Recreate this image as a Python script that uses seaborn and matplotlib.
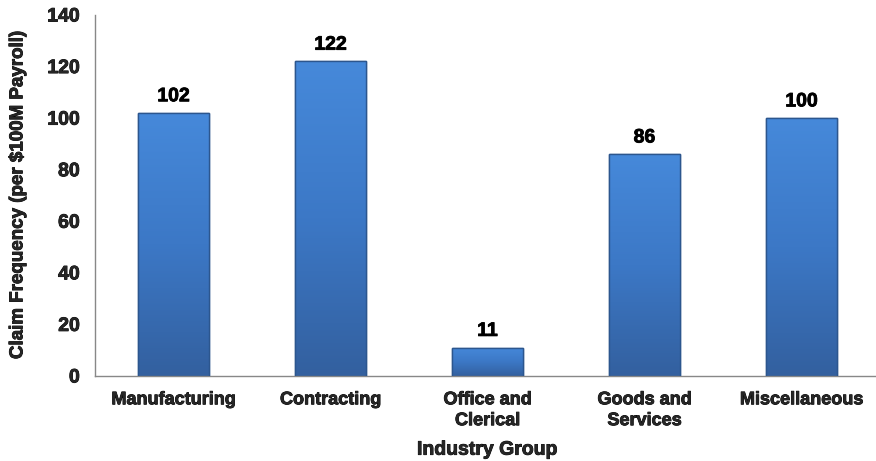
import numpy as np
import pandas as pd
import matplotlib
matplotlib.use("Agg")
import matplotlib.pyplot as plt
import matplotlib.patheffects as pe
from matplotlib.colors import LinearSegmentedColormap
import seaborn as sns

# Claim frequency per industry group
industries = ["Manufacturing", "Contracting", "Office and\nClerical", "Goods and\nServices", "Miscellaneous"]
claim_frequency = [102, 122, 11, 86, 100]
y_ticks = [0, 20, 40, 60, 80, 100, 120, 140]

df = pd.DataFrame({"Industry": industries, "Frequency": claim_frequency})

sns.set_theme(style="white")
plt.rcParams["font.family"] = ["Liberation Sans", "DejaVu Sans"]
plt.rcParams["font.weight"] = "bold"

heavy = [pe.withStroke(linewidth=0.6, foreground="black")]

fig = plt.figure(figsize=(8.76, 4.61), dpi=100)
ax = fig.add_axes([95 / 876, 1 - 376 / 461, 785 / 876, 361 / 461])

sns.barplot(data=df, x="Industry", y="Frequency", color="#3C78C8", width=0.45,
            edgecolor="#2C568E", linewidth=1.0, ax=ax, zorder=2)

# vertical gradient fill for each bar
grad_cmap = LinearSegmentedColormap.from_list("bar", ["#33609F", "#3C78C6", "#4689DA"])
gradient = np.linspace(0, 1, 256).reshape(-1, 1)
for patch in ax.patches:
    x0, y0 = patch.get_x(), patch.get_y()
    w, h = patch.get_width(), patch.get_height()
    im = ax.imshow(gradient, cmap=grad_cmap, origin="lower", aspect="auto",
                   extent=[x0, x0 + w, y0, y0 + h], zorder=2.5)
    im.set_clip_path(patch)
    ax.add_patch(plt.Rectangle((x0, y0), w, h, fill=False, edgecolor="#2C568E",
                               linewidth=1.0, zorder=3))

for i, v in enumerate(claim_frequency):
    ax.text(i, v + 3.0, str(v), ha="center", va="bottom", fontsize=14,
            fontweight="bold", color="black", path_effects=heavy)

ax.set_xlim(-0.5, 4.5)
ax.set_ylim(0, 140)
ax.set_yticks(y_ticks)
ax.set_yticklabels([str(t) for t in y_ticks], fontsize=14, fontweight="bold")
ax.set_xticks(range(len(industries)))
ax.set_xticklabels(industries, fontsize=13, fontweight="bold", linespacing=1.3)
ax.set_xticks(np.arange(-0.5, 5.0, 1.0), minor=True)
ax.tick_params(axis="x", which="major", length=0, pad=11)
ax.tick_params(axis="x", which="minor", length=6, width=1, color="#888888", direction="out")
ax.tick_params(axis="y", length=6, width=1, color="#888888", direction="out", pad=5)
for lbl in ax.get_xticklabels() + ax.get_yticklabels():
    lbl.set_path_effects(heavy)

for side in ["top", "right"]:
    ax.spines[side].set_visible(False)
for side in ["left", "bottom"]:
    ax.spines[side].set_color("#888888")
    ax.spines[side].set_linewidth(1.0)

ax.set_xlabel("Industry Group", fontsize=14, fontweight="bold", labelpad=9,
              path_effects=heavy)
ax.set_ylabel("Claim Frequency (per $100M Payroll)", fontsize=13.5, fontweight="bold",
              labelpad=15, path_effects=heavy)

fig.savefig("out.png", dpi=100)
